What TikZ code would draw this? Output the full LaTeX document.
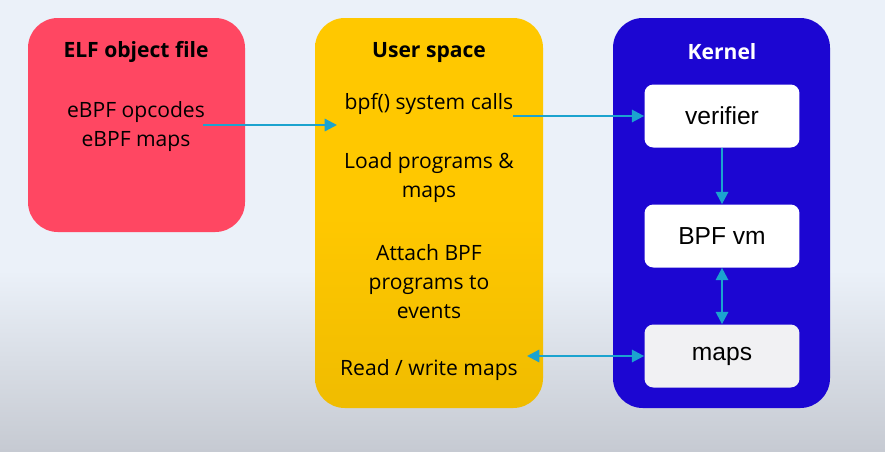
\documentclass[tikz,border=0pt]{standalone}
\usepackage{fontspec}
\setmainfont{Open Sans}
\newfontfamily\boxfont{Liberation Sans}
\usetikzlibrary{arrows.meta}
\definecolor{elfred}{HTML}{FF4762}
\definecolor{usryellow}{HTML}{FFC800}
\definecolor{usrdark}{HTML}{F0BC00}
\definecolor{kernblue}{HTML}{1C06D2}
\definecolor{flowcyan}{HTML}{1BA3CF}
\definecolor{bgtop}{HTML}{EBF1F9}
\definecolor{bgbottom}{HTML}{C6CAD2}
\definecolor{mapgrey}{HTML}{F1F1F3}
\tikzset{
  title/.style={font=\fontsize{12}{14}\selectfont\bfseries},
  entry/.style={font=\fontsize{12}{16.5}\selectfont, align=center},
  kbox/.style={fill=white, rounded corners=5pt, minimum width=3.1cm,
    minimum height=1.26cm, font=\boxfont\fontsize{14}{16}\selectfont},
  flow/.style={draw=flowcyan, line width=1.3pt,
    -{Triangle[width=7pt,length=7pt]}},
  dflow/.style={flow, {Triangle[width=7pt,length=7pt]}-{Triangle[width=7pt,length=7pt]}}
}
\begin{document}
\begin{tikzpicture}[x=0.02cm,y=-0.02cm]
  % background
  \fill[bgtop] (0,0) rectangle (885,270);
  \shade[top color=bgtop, bottom color=bgbottom] (0,270) rectangle (885,451);
  \useasboundingbox (0,0) rectangle (885,451);

  % three panels
  \fill[elfred, rounded corners=17pt] (28,18) rectangle (245,232);
  \shade[top color=usryellow, bottom color=usrdark, middle color=usryellow,
    rounded corners=17pt] (315,18) rectangle (543,408);
  \fill[kernblue, rounded corners=17pt] (613,18) rectangle (830,408);

  \node[title] (elftitle) at (136,52) {ELF object file};
  \node[title] (usrtitle) at (429,52) {User space};
  \node[title, white] (kerntitle) at (722,52) {Kernel};

  \node[entry] (elfbody) at (136,127) {eBPF opcodes\\eBPF maps};

  \node[entry] (bpfcall) at (429,104) {bpf() system calls};
  \node[entry] (loadprog) at (429,178) {Load programs \&\\maps};
  \node[entry] (attach) at (429,282) {Attach BPF\\programs to\\events};
  \node[entry] (rwmaps) at (429,370) {Read / write maps};

  \node[kbox] (verifier) at (722,116) {verifier};
  \node[kbox] (bpfvm) at (722,236) {BPF vm};
  \node[kbox, fill=mapgrey] (maps) at (722,356) {maps};

  \coordinate (elfout) at (203,125);
  \coordinate (usrin) at (337,125);
  \coordinate (callout) at (513,116);
  \coordinate (rwout) at (527,356);

  \draw[flow] (elfout) -- (usrin);
  \draw[flow] (callout) -- (verifier.west);
  \draw[flow] (verifier) -- (bpfvm);
  \draw[dflow] (bpfvm) -- (maps);
  \draw[dflow] (rwout) -- (maps.west);
\end{tikzpicture}
\end{document}
